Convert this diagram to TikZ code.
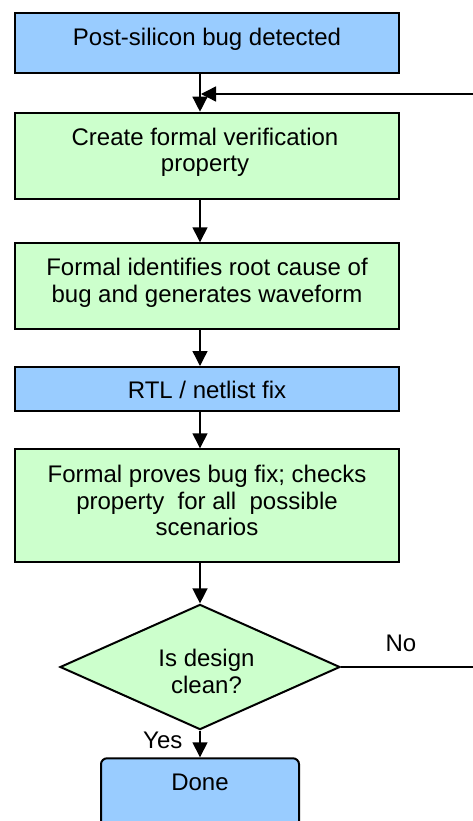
\documentclass[tikz,border=0pt]{standalone}
\usepackage{fontspec}
\setmainfont{Liberation Sans}
\usetikzlibrary{arrows.meta,shapes.geometric}
\definecolor{stepblue}{HTML}{99CCFF}
\definecolor{stepgreen}{HTML}{CCFFCC}
\tikzset{
  box/.style={draw=black, line width=2pt, inner sep=0pt, minimum width=383.7pt},
  bluebox/.style={box, fill=stepblue},
  greenbox/.style={box, fill=stepgreen},
  lbl/.style={inner sep=0pt, align=center, font=\fontsize{24}{26.8}\selectfont},
  flow/.style={line width=1.4pt, -{Triangle[length=15pt,width=15pt]}},
}
\begin{document}
\begin{tikzpicture}[x=1pt,y=-1pt]
\useasboundingbox (0,0) rectangle (473,821);
\clip (0,0) rectangle (473,821);

% process boxes
\node[bluebox,  minimum height=60.3pt]  (b1) at (207.15,42.85)  {};
\node[greenbox, minimum height=86.3pt]  (b2) at (207.15,155.85) {};
\node[greenbox, minimum height=85.7pt]  (b3) at (207.15,286.15) {};
\node[bluebox,  minimum height=44pt]    (b4) at (207.15,389)    {};
\node[greenbox, minimum height=113pt]   (b5) at (207.15,505.8)  {};

% decision and end
\node[diamond, draw=black, line width=2pt, fill=stepgreen, inner sep=0pt,
      minimum width=280pt, minimum height=125.2pt] (dec) at (200,667) {};
\node[draw=black, line width=2pt, fill=stepblue, rounded corners=6pt, inner sep=0pt,
      minimum width=198pt, minimum height=100pt] (done) at (200,808.3) {};

% box texts
\node[lbl] (t1) at (207,38.9)  {Post-silicon bug detected};
\node[lbl] (t2) at (205,152.2) {Create formal verification\\property};
\node[lbl] (t3) at (207,282.5) {Formal identifies root cause of\\bug and generates waveform};
\node[lbl] (t4) at (207,390)   {RTL / netlist fix};
\node[lbl] (t5) at (207,500.5) {Formal proves bug fix; checks\\property\ \ for all\ \ possible\\scenarios};
\node[lbl] (t6) at (206.5,671.5) {Is design\\clean?};
\node[lbl] (t7) at (200,782.8) {Done};
\node[lbl] (no)  at (401,643.7) {No};
\node[lbl] (yes) at (162.8,740) {Yes};

% connectors
\coordinate (col) at (200,0);
\coordinate (rt)  at (520,0);
\coordinate (fb)  at (201,94);
\draw[flow] (b1.south -| col) -- (b2.north -| col);
\draw[flow] (b2.south -| col) -- (b3.north -| col);
\draw[flow] (b3.south -| col) -- (b4.north -| col);
\draw[flow] (b4.south -| col) -- (b5.north -| col);
\draw[flow] (b5.south -| col) -- (dec.north);
\draw[flow] (dec.south) -- (done.north);
\draw[flow] (dec.east) -- (dec.east -| rt) |- (fb);
\end{tikzpicture}
\end{document}
